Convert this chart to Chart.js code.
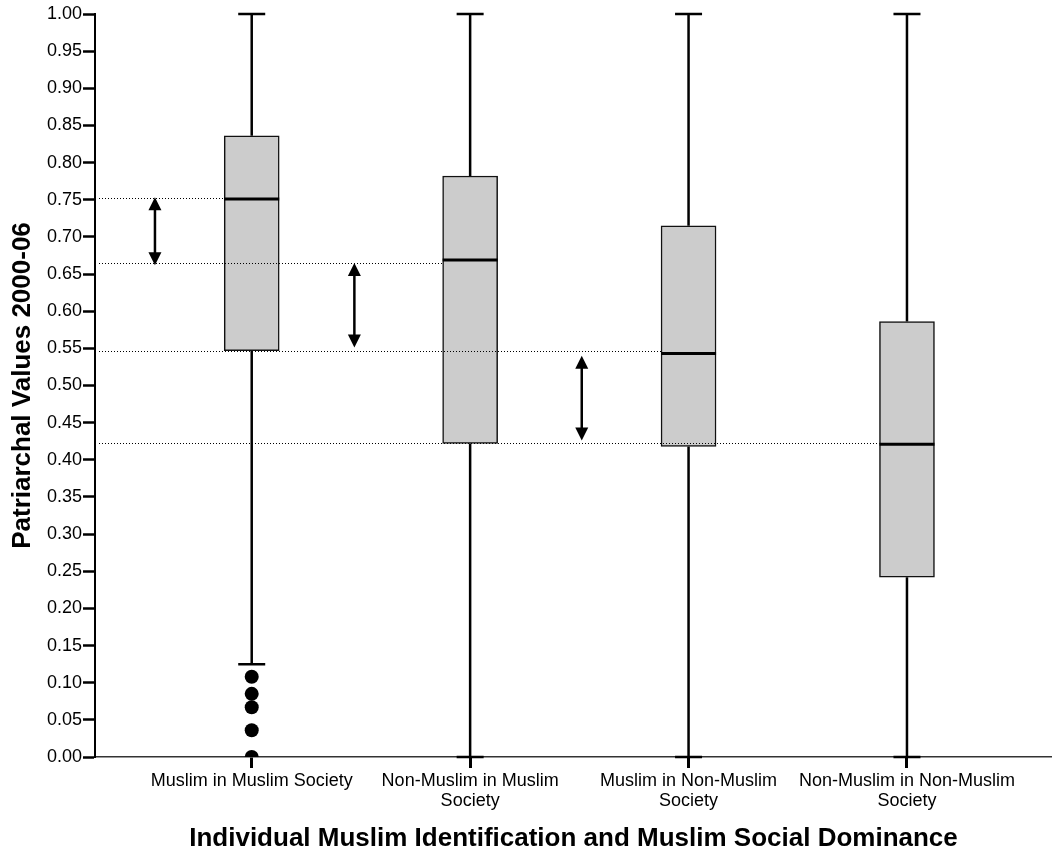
<!DOCTYPE html>
<html>
<head>
<meta charset="utf-8">
<script src="https://cdn.jsdelivr.net/npm/chart.js@4/dist/chart.umd.min.js"></script>
<style>
  html, body { margin: 0; padding: 0; background: #fff; overflow: hidden; }
  /* 7px wider than the window: the outlier dataset asks for 7px of right padding */
  #wrap { width: 1059px; height: 854px; position: relative; }
</style>
</head>
<body>
<div id="wrap"><canvas id="chart"></canvas></div>
<script>
// Box plot values
const categories = [
  ['Muslim in Muslim Society'],
  ['Non-Muslim in Muslim', 'Society'],
  ['Muslim in Non-Muslim', 'Society'],
  ['Non-Muslim in Non-Muslim', 'Society'],
];
const whiskerLow = [0.125, 0.0, 0.0, 0.0];
const q1 = [0.547, 0.422, 0.418, 0.242];
const median = [0.751, 0.669, 0.543, 0.421];
const q3 = [0.836, 0.782, 0.715, 0.586];
const whiskerHigh = [1.0, 1.0, 1.0, 1.0];
const outliers = [
  { x: 0, y: 0.108 },
  { x: 0, y: 0.085 },
  { x: 0, y: 0.067 },
  { x: 0, y: 0.036 },
  { x: 0, y: 0.0 },
];
// dotted reference lines: value and the box they run up to
const refLineValues = [0.753, 0.665, 0.547, 0.422];
const refLineEnds = [0, 1, 2, 3];
// double arrows between the medians
const arrowX = [-0.443, 0.470, 1.511];
const arrowTop = [0.7535, 0.665, 0.540];
const arrowBottom = [0.662, 0.551, 0.426];

const FONT = "'Liberation Sans', Arial, sans-serif";
const BOX_W = 55;

const boxParts = {
  id: 'boxParts',
  beforeDatasetsDraw(chart) {
    const { ctx, scales: { x, y } } = chart;
    ctx.save();
    ctx.strokeStyle = '#000';
    ctx.lineWidth = 2.5;
    categories.forEach((c, i) => {
      const px = x.getPixelForValue(i);
      const lo = y.getPixelForValue(whiskerLow[i]);
      const hi = y.getPixelForValue(whiskerHigh[i]);
      ctx.beginPath();
      ctx.moveTo(px, lo);
      ctx.lineTo(px, y.getPixelForValue(q1[i]));
      ctx.moveTo(px, y.getPixelForValue(q3[i]));
      ctx.lineTo(px, hi);
      // caps
      ctx.moveTo(px - 13.5, lo);
      ctx.lineTo(px + 13.5, lo);
      ctx.moveTo(px - 13.5, hi);
      ctx.lineTo(px + 13.5, hi);
      ctx.stroke();
    });
    ctx.restore();
  },
  afterDatasetsDraw(chart) {
    const { ctx, chartArea, scales: { x, y } } = chart;
    ctx.save();
    // medians
    ctx.strokeStyle = '#000';
    ctx.lineWidth = 3;
    median.forEach((m, i) => {
      const px = x.getPixelForValue(i);
      const py = y.getPixelForValue(m);
      ctx.beginPath();
      ctx.moveTo(px - BOX_W / 2, py);
      ctx.lineTo(px + BOX_W / 2, py);
      ctx.stroke();
    });
    // dotted lines
    ctx.lineWidth = 1;
    ctx.setLineDash([1, 2]);
    refLineValues.forEach((v, i) => {
      const py = Math.round(y.getPixelForValue(v)) + 0.5;
      ctx.beginPath();
      ctx.moveTo(chartArea.left + 4, py);
      ctx.lineTo(x.getPixelForValue(refLineEnds[i]) - BOX_W / 2, py);
      ctx.stroke();
    });
    ctx.setLineDash([]);
    // arrows
    ctx.fillStyle = '#000';
    ctx.lineWidth = 2.5;
    arrowX.forEach((ax, i) => {
      const px = x.getPixelForValue(ax);
      const top = y.getPixelForValue(arrowTop[i]);
      const bot = y.getPixelForValue(arrowBottom[i]);
      ctx.beginPath();
      ctx.moveTo(px, top + 10);
      ctx.lineTo(px, bot - 10);
      ctx.stroke();
      ctx.beginPath();
      ctx.moveTo(px, top);
      ctx.lineTo(px - 6.5, top + 13);
      ctx.lineTo(px + 6.5, top + 13);
      ctx.closePath();
      ctx.fill();
      ctx.beginPath();
      ctx.moveTo(px, bot);
      ctx.lineTo(px - 6.5, bot - 13);
      ctx.lineTo(px + 6.5, bot - 13);
      ctx.closePath();
      ctx.fill();
    });
    ctx.restore();
  },
};

const ctx = document.getElementById('chart');
new Chart(ctx, {
  type: 'bar',
  data: {
    datasets: [
      {
        type: 'bar',
        data: categories.map((c, i) => ({ x: i, y: [q1[i], q3[i]] })),
        backgroundColor: '#cccccc',
        borderColor: '#111',
        borderWidth: 1.5,
        borderSkipped: false,
        barThickness: BOX_W,
      },
      {
        type: 'scatter',
        data: outliers,
        pointRadius: 7,
        pointBackgroundColor: '#000',
        pointBorderWidth: 0,
      },
    ],
  },
  options: {
    responsive: true,
    maintainAspectRatio: false,
    devicePixelRatio: 1,
    animation: false,
    layout: { padding: { top: 14, right: 0, left: 0, bottom: 0 } },
    plugins: {
      legend: { display: false },
      tooltip: { enabled: false },
    },
    scales: {
      x: {
        type: 'linear',
        offset: false,
        min: -0.7175,
        max: 3.664,
        afterBuildTicks(scale) {
          scale.ticks = categories.map((c, i) => ({ value: i }));
        },
        afterFit(scale) {
          scale.height = 97;
          scale.paddingLeft = 0;
          scale.paddingRight = 0;
        },
        ticks: {
          autoSkip: false,
          maxRotation: 0,
          padding: 3,
          color: '#000',
          font: { family: FONT, size: 18, lineHeight: 1.1 },
          callback: (v) => categories[v],
        },
        grid: {
          offset: false,
          drawOnChartArea: false,
          tickLength: 11,
          tickWidth: 3,
          tickColor: '#000',
        },
        border: { color: '#333', width: 1.5 },
        title: {
          display: true,
          text: 'Individual Muslim Identification and Muslim Social Dominance',
          color: '#000',
          font: { family: FONT, size: 26, weight: 'bold' },
          padding: { top: -2, bottom: 0 },
        },
      },
      y: {
        min: 0,
        max: 1,
        afterFit(scale) {
          scale.width = 95;
        },
        ticks: {
          stepSize: 0.05,
          padding: 1,
          color: '#000',
          font: { family: FONT, size: 18 },
          callback: (v) => v.toFixed(2),
        },
        grid: {
          drawOnChartArea: false,
          tickLength: 12,
          tickWidth: 2.5,
          tickColor: '#000',
        },
        border: { color: '#000', width: 2 },
        title: {
          display: true,
          text: 'Patriarchal Values 2000-06',
          color: '#000',
          font: { family: FONT, size: 26, weight: 'bold' },
          padding: { top: 7, bottom: 0 },
        },
      },
    },
  },
  plugins: [boxParts],
});
</script>
</body>
</html>
